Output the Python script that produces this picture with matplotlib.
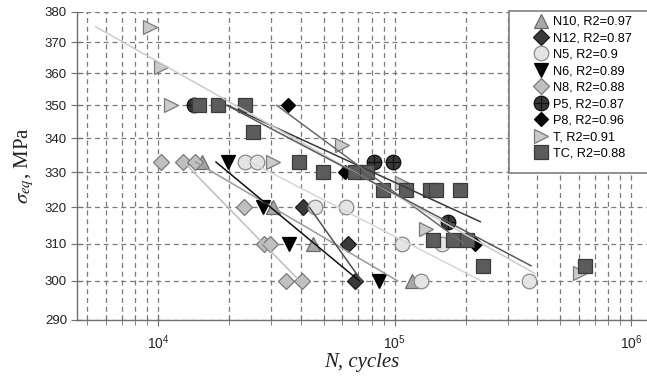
import numpy as np
import matplotlib.pyplot as plt
from matplotlib.path import Path
from matplotlib.patches import Rectangle
from matplotlib.ticker import FixedLocator, NullLocator, LogLocator, NullFormatter, FuncFormatter

# cycles to failure (N) and equivalent stress (MPa) for each series
n10_N = [15300, 30600, 45200, 118000]
n10_s = [333, 320, 310, 300]

n12_N = [40800, 63600, 67900]
n12_s = [320, 310, 300]

n5_N = [23300, 26100, 46000, 62200, 107000, 158000, 129000, 371000]
n5_s = [333, 333, 320, 320, 310, 310, 300, 300]

n6_N = [19800, 27800, 35800, 86000]
n6_s = [333, 320, 310, 300]

n8_N = [10300, 12700, 14300, 23000, 28000, 29700, 34700, 40400]
n8_s = [333, 333, 333, 320, 310, 310, 300, 300]

p5_N = [14100, 81700, 98600, 168000]
p5_s = [350, 333, 333, 316]

p8_N = [35500, 61600, 218000]
p8_s = [350, 330, 310]

t_N = [9200, 10300, 11300, 30600, 59600, 107000, 136000, 607000]
t_s = [375, 362, 350, 333, 338, 327, 314, 302]

tc_N = [14900, 17900, 23300, 25200, 39400, 49900, 67900, 76000, 89400,
        112000, 141000, 150000, 189000, 145000, 176000, 202000, 237000, 637000]
tc_s = [350, 350, 350, 342, 333, 330, 330, 330, 325,
        325, 325, 325, 325, 311, 311, 311, 304, 304]

labels = ["N10, R2=0.97", "N12, R2=0.87", "N5, R2=0.9", "N6, R2=0.89",
          "N8, R2=0.88", "P5, R2=0.87", "P8, R2=0.96", "T, R2=0.91", "TC, R2=0.88"]

y_ticks = [290, 300, 310, 320, 330, 340, 350, 360, 370, 380]

# circle with a cross through it
circ = Path.unit_circle()
cross = Path([(-1, 0), (1, 0), (0, -1), (0, 1)],
             [Path.MOVETO, Path.LINETO, Path.MOVETO, Path.LINETO])
circle_cross = Path.make_compound_path(circ, cross)

series = [
    (n10_N, n10_s, dict(marker="^", ms=10.5, mfc="#a9a9a9", mec="#6a6a6a"), "#9a9a9a"),
    (n12_N, n12_s, dict(marker="D", ms=8, mfc="#3a3a3a", mec="#1a1a1a"), "#505050"),
    (n5_N, n5_s, dict(marker="o", ms=10.5, mfc="#e4e4e4", mec="#8a8a8a"), "#d6d6d6"),
    (n6_N, n6_s, dict(marker="v", ms=10.5, mfc="#050505", mec="#000000"), "#111111"),
    (n8_N, n8_s, dict(marker="D", ms=8, mfc="#c0c0c0", mec="#7a7a7a"), "#bdbdbd"),
    (p5_N, p5_s, dict(marker=circle_cross, ms=10.5, mfc="#383838", mec="#101010"), "#3a3a3a"),
    (p8_N, p8_s, dict(marker="D", ms=7, mfc="#050505", mec="#000000"), "#6a6a6a"),
    (t_N, t_s, dict(marker=">", ms=10.5, mfc="#cbcbcb", mec="#7a7a7a"), "#cccccc"),
    (tc_N, tc_s, dict(marker="s", ms=10.5, mfc="#5c5c5c", mec="#3a3a3a"), "#5a5a5a"),
]


def fit_line(N, s):
    # log N regressed on log stress, drawn over the stress range
    b, a = np.polyfit(np.log10(s), np.log10(N), 1)
    s_end = np.array([max(s), min(s)], dtype=float)
    return 10 ** (a + b * np.log10(s_end)), s_end


plt.rcParams["font.family"] = "Liberation Sans"
plt.rcParams["mathtext.fontset"] = "stix"

W, H = 647, 380
fig = plt.figure(figsize=(W / 100, H / 100), dpi=100)
ax = fig.add_axes([76.7 / W, 60.5 / H, 1 - 76.7 / W, 307.8 / H])
ax.set_xscale("log")
ax.set_yscale("log")

handles = []
for (N, s, style, lc), lab in zip(series, labels):
    h, = ax.plot(N, s, linestyle="none", mew=0.9, zorder=3, label=lab, **style)
    handles.append(h)

for N, s, style, lc in series:
    xf, yf = fit_line(N, s)
    ax.plot(xf, yf, color=lc, lw=1.1, zorder=4)

ax.set_xlim(4520, 1.165e6)
ax.set_ylim(290, 380)

ax.xaxis.set_major_locator(LogLocator(base=10))
ax.xaxis.set_minor_locator(LogLocator(base=10, subs=np.arange(2, 10)))
ax.xaxis.set_minor_formatter(NullFormatter())
ax.yaxis.set_major_locator(FixedLocator(y_ticks))
ax.yaxis.set_minor_locator(NullLocator())
ax.yaxis.set_major_formatter(FuncFormatter(lambda v, p: f"{v:.0f}"))

ax.grid(True, which="both", axis="x", color="#7a7a7a", ls=(0, (4, 3)), lw=0.9)
ax.grid(True, which="major", axis="y", color="#7a7a7a", ls=(0, (4, 3)), lw=0.9)
ax.set_axisbelow(True)

for side in ["top", "right"]:
    ax.spines[side].set_visible(False)
for side in ["left", "bottom"]:
    ax.spines[side].set_color("#707070")
    ax.spines[side].set_linewidth(1.0)

ax.tick_params(axis="both", which="both", direction="inout", color="#707070",
               labelsize=9.5, labelcolor="#222222")
ax.tick_params(axis="both", which="major", length=8, pad=3)
ax.tick_params(axis="x", which="minor", length=7)
ax.tick_params(axis="x", which="major", labelsize=10, pad=6)

ax.set_xlabel("N, cycles", family="Liberation Serif", style="italic",
              fontsize=15, color="#222222", labelpad=1)
ax.set_ylabel(r"$\sigma_{eq}$, MPa", family="Liberation Serif",
              fontsize=15, color="#222222", labelpad=6)

# legend box runs off the right edge of the figure
frame = Rectangle((509 / W, (H - 173) / H), 0.3, 162 / H, transform=fig.transFigure,
                  facecolor="white", edgecolor="#808080", lw=1.2, zorder=5,
                  clip_on=False)
fig.patches.append(frame)

leg = fig.legend(handles=handles, loc="upper left",
                 bbox_to_anchor=(532 / W, (H - 16) / H), borderaxespad=0,
                 fontsize=9.2, frameon=False, handletextpad=0.25,
                 labelspacing=0.35, borderpad=0, handlelength=1.4)
leg.set_zorder(6)

fig.savefig("out.png", dpi=100)
